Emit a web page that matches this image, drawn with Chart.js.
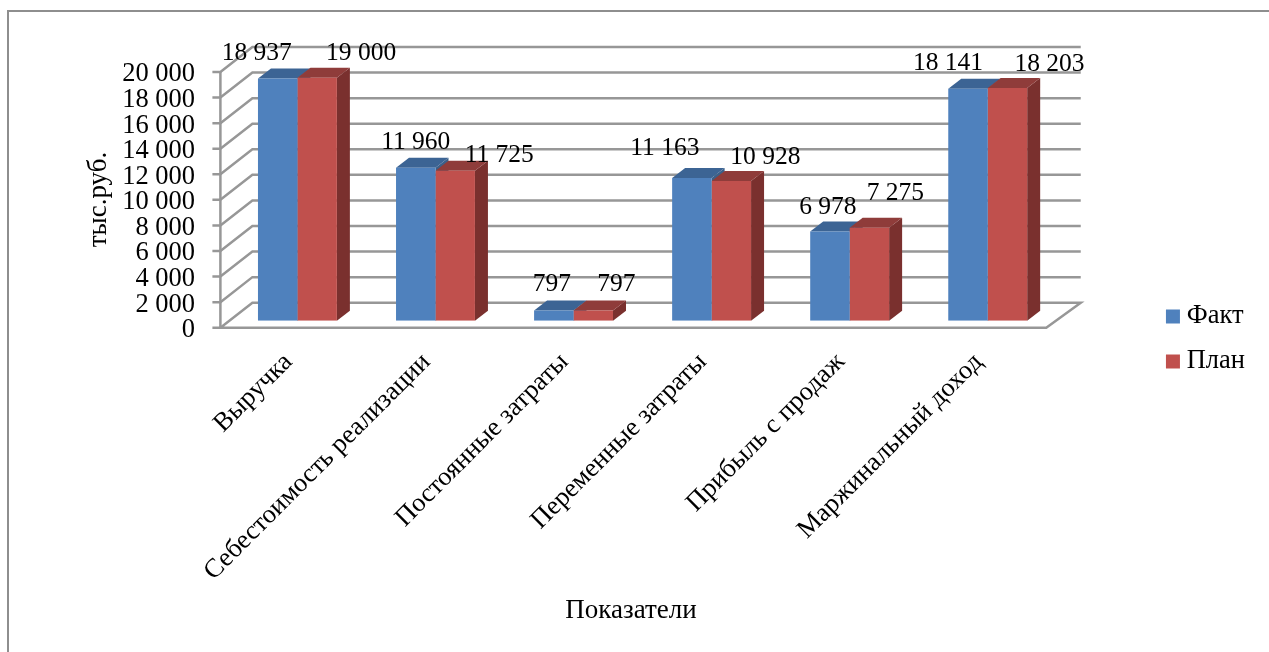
<!DOCTYPE html>
<html lang="ru">
<head>
<meta charset="utf-8">
<title>Показатели</title>
<script src="https://cdn.jsdelivr.net/npm/chart.js@4/dist/chart.umd.js"></script>
<style>
  html, body { margin: 0; padding: 0; background: #fff; }
  canvas { display: block; }
</style>
</head>
<body>
<canvas id="chart" width="1269" height="652"></canvas>
<script>
const categories = ['Выручка', 'Себестоимость реализации', 'Постоянные затраты',
  'Переменные затраты', 'Прибыль с продаж', 'Маржинальный доход'];
const factValues = [18937, 11960, 797, 11163, 6978, 18141];
const planValues = [19000, 11725, 797, 10928, 7275, 18203];

// hand placed value labels, offset from the top centre of each bar
const factLabelShift = [[-21, -25], [0, -25], [-2, -26], [-27, -30], [-2, -24], [-20, -25]];
const planLabelShift = [[44, -24], [44, -15], [23, -26], [34, -24], [26, -34], [42, -24]];

const SERIF = '"Liberation Serif", "Times New Roman", serif';
const GRID = '#979797';
const DEPTH_X = 13, DEPTH_Y = 10;   // bar depth
const FRONT_Y = 7, BACK_Y = -18;    // floor front and back edge against the bar plane

const fmt = v => String(v).replace(/\B(?=(\d{3})+$)/g, ' ');

function poly(ctx, pts, color) {
  ctx.fillStyle = color;
  ctx.beginPath();
  pts.forEach((p, i) => i ? ctx.lineTo(p[0], p[1]) : ctx.moveTo(p[0], p[1]));
  ctx.closePath();
  ctx.fill();
}

// outer frame, walls and gridlines of the 3d box
const boxPlugin = {
  id: 'box',
  beforeDatasetsDraw(chart) {
    const { ctx, chartArea: a, scales: { y } } = chart;
    const fl = a.left - 8, bl = a.left + 24, fr = a.right - 10.5, br = a.right + 24;
    ctx.save();
    ctx.strokeStyle = '#8e8e8e';
    ctx.lineWidth = 2;
    ctx.beginPath();
    ctx.moveTo(8, 652);
    ctx.lineTo(8, 11);
    ctx.lineTo(1269, 11);
    ctx.stroke();

    ctx.strokeStyle = GRID;
    ctx.lineWidth = 2.5;
    y.ticks.forEach(t => {
      const p = y.getPixelForValue(t.value);
      ctx.beginPath();
      ctx.moveTo(fl - 8, p + FRONT_Y);
      ctx.lineTo(fl, p + FRONT_Y);
      ctx.lineTo(bl, p + BACK_Y);
      ctx.lineTo(br, p + BACK_Y);
      if (t.value === 0) {
        ctx.lineTo(fr, p + FRONT_Y);
        ctx.lineTo(fl, p + FRONT_Y);
      }
      ctx.stroke();
    });
    ctx.beginPath();
    ctx.moveTo(fl, y.getPixelForValue(20000) + FRONT_Y);
    ctx.lineTo(fl, y.getPixelForValue(0) + FRONT_Y);
    ctx.stroke();

    // top and side faces, the front faces are the chart's own bars
    chart.data.datasets.forEach((ds, i) => {
      chart.getDatasetMeta(i).data.forEach(bar => {
        const l = bar.x - bar.width / 2, r = bar.x + bar.width / 2;
        poly(ctx, [[r, bar.y], [r + DEPTH_X, bar.y - DEPTH_Y], [r + DEPTH_X, bar.base - DEPTH_Y], [r, bar.base]], ds.sideColor);
        poly(ctx, [[l, bar.y], [r, bar.y], [r + DEPTH_X, bar.y - DEPTH_Y], [l + DEPTH_X, bar.y - DEPTH_Y]], ds.topColor);
      });
    });
    ctx.restore();
  }
};

const textPlugin = {
  id: 'texts',
  afterDatasetsDraw(chart) {
    const { ctx } = chart;
    ctx.save();
    ctx.fillStyle = '#000';
    ctx.textAlign = 'center';
    ctx.textBaseline = 'middle';
    ctx.font = '25.5px ' + SERIF;
    chart.data.datasets.forEach((ds, i) => {
      chart.getDatasetMeta(i).data.forEach((bar, j) => {
        ctx.fillText(fmt(ds.data[j]), bar.x + ds.labelShift[j][0], bar.y + ds.labelShift[j][1]);
      });
    });
    // axis titles
    ctx.font = '27px ' + SERIF;
    ctx.fillText('Показатели', 631, 611);
    ctx.translate(99, 199.5);
    ctx.rotate(-Math.PI / 2);
    ctx.fillText('тыс.руб.', 0, 0);
    ctx.restore();
  }
};

new Chart(document.getElementById('chart'), {
  type: 'bar',
  data: {
    labels: categories,
    datasets: [
      { label: 'Факт', data: factValues, backgroundColor: '#4f81bd', borderWidth: 0,
        sideColor: '#3b6089', topColor: '#3c6494', labelShift: factLabelShift },
      { label: 'План', data: planValues, backgroundColor: '#c0504d', borderWidth: 0,
        sideColor: '#7a302e', topColor: '#8f3c3a', labelShift: planLabelShift }
    ]
  },
  plugins: [boxPlugin, textPlugin],
  options: {
    responsive: false,
    animation: false,
    categoryPercentage: 0.5716,
    barPercentage: 1,
    layout: { padding: { left: 0, top: 65, right: 14, bottom: 39 } },
    plugins: {
      tooltip: { enabled: false },
      legend: {
        position: 'right',
        labels: {
          usePointStyle: true,
          pointStyle: 'rect',
          boxWidth: 1,
          boxHeight: 14,
          padding: 18.5,
          color: '#000',
          font: { family: SERIF, size: 26.5 }
        }
      }
    },
    scales: {
      x: {
        grid: { display: false },
        border: { display: false },
        afterFit(s) { s.height = 292.3; },
        ticks: {
          autoSkip: false,
          minRotation: 45,
          maxRotation: 45,
          padding: 18,
          labelOffset: -9,
          color: '#000',
          font: { family: SERIF, size: 26.5 }
        }
      },
      y: {
        min: 0,
        max: 20000,
        grid: { display: false, drawTicks: false },
        border: { display: false },
        afterFit(s) { s.width = 228.4; },
        ticks: {
          stepSize: 2000,
          autoSkip: false,
          padding: 33.4,
          labelOffset: FRONT_Y + 2.5,
          color: '#000',
          font: { family: SERIF, size: 26.5 },
          callback: fmt
        }
      },
      // empty strip between the plot and the legend
      gap: {
        position: 'right',
        grid: { display: false },
        border: { display: false },
        ticks: { display: false },
        afterFit(s) { s.width = 97.2; }
      }
    }
  }
});
</script>
</body>
</html>
